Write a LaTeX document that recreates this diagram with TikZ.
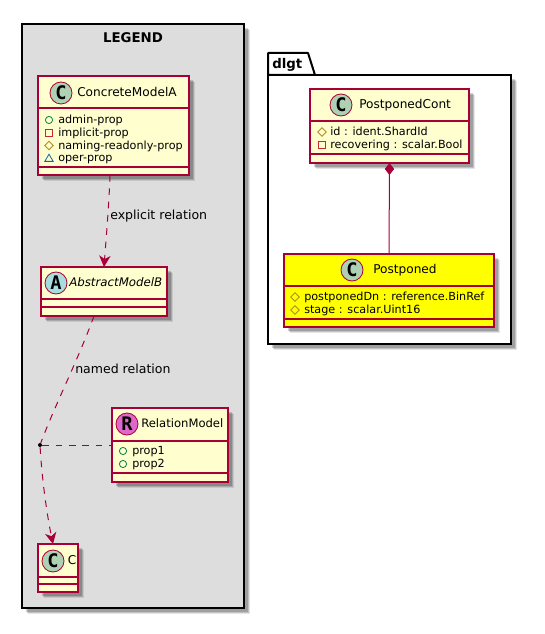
\documentclass[tikz,border=0pt]{standalone}
\usepackage{fontspec}
\setmainfont{DejaVu Sans}
\newfontfamily\spotfont{DejaVu Sans Mono}
\usetikzlibrary{arrows.meta,shadows,calc,shapes.geometric}
\definecolor{umlred}{HTML}{A80036}
\definecolor{umlfill}{HTML}{FEFECE}
\definecolor{legendfill}{HTML}{DDDDDD}
\definecolor{postfill}{HTML}{FFFF00}
\definecolor{spotC}{HTML}{ADD1B2}
\definecolor{spotA}{HTML}{A9DCDF}
\definecolor{spotR}{HTML}{E066CC}
\definecolor{pubc}{HTML}{038048}
\definecolor{privc}{HTML}{C82930}
\definecolor{protc}{HTML}{B38D22}
\definecolor{pkgc}{HTML}{1963A0}
\tikzset{
  softshadow/.style={
    general shadow={shadow xshift=4.6pt,shadow yshift=-4.6pt,fill=black,opacity=.10},
    general shadow={shadow xshift=3.8pt,shadow yshift=-3.8pt,fill=black,opacity=.15},
    general shadow={shadow xshift=3pt,shadow yshift=-3pt,fill=black,opacity=.18}},
  classbox/.style={shape=rectangle,draw=umlred,line width=.85pt,inner sep=0pt,outer sep=0pt,softshadow},
  groupbox/.style={shape=rectangle,draw=black,line width=1.5pt,inner sep=0pt,outer sep=0pt,softshadow},
  divider/.style={draw=umlred,line width=.85pt},
  spot/.style={shape=circle,draw=umlred,line width=.6pt,minimum size=16.5pt,inner sep=0pt,
    font=\spotfont\bfseries\fontsize{14}{14}\selectfont,text=black},
  title/.style={anchor=mid west,inner sep=0pt,font=\fontsize{9.1}{11}\selectfont},
  field/.style={anchor=mid west,inner sep=0pt,font=\fontsize{8.4}{10}\selectfont},
  edgelabel/.style={anchor=mid west,inner sep=0pt,font=\fontsize{9.4}{11}\selectfont},
  grouptitle/.style={inner sep=0pt,font=\bfseries\fontsize{10}{12}\selectfont},
  link/.style={draw=umlred,line width=.75pt},
  dep/.style={link,dash pattern=on 5pt off 5pt},
  open/.style={-{Stealth[length=8.5pt,width=8.5pt,inset=2.5pt,umlred]}},
  pubi/.style={draw=pubc,line width=.6pt},
  privi/.style={draw=privc,line width=.6pt},
  proti/.style={draw=protc,line width=.6pt},
  pkgi/.style={draw=pkgc,line width=.6pt},
}
% name, x1, y1, x2, y2, fill, extra
\newcommand\umlrect[7][classbox]{%
  \pgfmathsetlengthmacro\boxw{(#4-#2)*.75pt}%
  \pgfmathsetlengthmacro\boxh{(#5-#3)*.75pt}%
  \node[#1,fill=#7,minimum width=\boxw,minimum height=\boxh] (#6) at ({(#2+#4)/2},{(#3+#5)/2}) {};}
\newcommand\umldiv[2]{\draw[divider] (#1.west |- 0,#2) -- (#1.east |- 0,#2);}
\newcommand\iconpub[2]{\draw[pubi] (#1,#2) circle (2.7pt);}
\newcommand\iconpriv[2]{\draw[privi] ($(#1,#2)+(-3.2,-3.2)$) rectangle ($(#1,#2)+(3.2,3.2)$);}
\newcommand\iconprot[2]{\draw[proti] ($(#1,#2)+(-4.2,0)$) -- ($(#1,#2)+(0,-4.2)$) -- ($(#1,#2)+(4.2,0)$) -- ($(#1,#2)+(0,4.2)$) -- cycle;}
\newcommand\iconpkg[2]{\draw[pkgi] ($(#1,#2)+(-4.2,3.4)$) -- ($(#1,#2)+(0,-3.8)$) -- ($(#1,#2)+(4.2,3.4)$) -- cycle;}
\begin{document}
\begin{tikzpicture}[x=.75pt,y=-.75pt]
\useasboundingbox (0,0) rectangle (544,634);
\fill[white] (0,0) rectangle (544,634);

% LEGEND
\umlrect[groupbox]{22}{24}{244}{608}{legend}{legendfill}
\node[grouptitle] (legendtitle) at (133,38) {LEGEND};

% dlgt package
\node[groupbox,fill=white,minimum width=182.25pt,minimum height=201.75pt] (dlgt) at (389.5,209.5) {};
\draw[black,line width=1.5pt,fill=white,line join=round] (dlgt.north west) -- (268,53) -- (308,53) -- (315,75) -- cycle;
\node[grouptitle,anchor=mid west] (dlgttitle) at (272,65) {dlgt};

% ConcreteModelA
\umlrect{38}{76}{189}{175}{cma}{umlfill}
\umldiv{cma}{108}\umldiv{cma}{167}
\node[spot,fill=spotC] (cmaspot) at (61,93) {C};
\node[title] (cmaname) at (77,93) {ConcreteModelA};
\iconpub{49}{120}\iconpriv{49}{133}\iconprot{49}{145.5}\iconpkg{49}{158}
\node[field] (cmaf1) at (58,120) {admin-prop};
\node[field] (cmaf2) at (58,133) {implicit-prop};
\node[field] (cmaf3) at (58,145.5) {naming-readonly-prop};
\node[field] (cmaf4) at (58,158) {oper-prop};

% AbstractModelB
\umlrect{41}{267}{167}{316}{amb}{umlfill}
\umldiv{amb}{299}\umldiv{amb}{307}
\node[spot,fill=spotA] (ambspot) at (56,283) {A};
\node[title,font=\itshape\fontsize{8.85}{11}\selectfont] (ambname) at (69,283) {AbstractModelB};

% RelationModel
\umlrect{112}{408}{228}{482}{rel}{umlfill}
\umldiv{rel}{441}\umldiv{rel}{473}
\node[spot,fill=spotR] (relspot) at (127,424) {R};
\node[title,font=\fontsize{8.7}{11}\selectfont] (relname) at (141,424) {RelationModel};
\iconpub{123}{451}\iconpub{123}{464}
\node[field] (relf1) at (132,451) {prop1};
\node[field] (relf2) at (132,464) {prop2};

% C
\umlrect{38}{544}{78}{592}{cc}{umlfill}
\umldiv{cc}{577}\umldiv{cc}{584}
\node[spot,fill=spotC] (ccspot) at (53,561) {C};
\node[title] (ccname) at (67.5,561) {C};

% PostponedCont
\umlrect{310}{89}{469}{163}{cont}{umlfill}
\umldiv{cont}{121}\umldiv{cont}{154}
\node[spot,fill=spotC] (contspot) at (341,105) {C};
\node[title] (contname) at (359,105) {PostponedCont};
\iconprot{322}{132}\iconpriv{322}{145}
\node[field] (contf1) at (330,132) {id : ident.ShardId};
\node[field] (contf2) at (330,145) {recovering : scalar.Bool};

% Postponed
\umlrect{284}{254}{494}{327}{post}{postfill}
\umldiv{post}{286}\umldiv{post}{319}
\node[spot,fill=spotC] (postspot) at (352,270) {C};
\node[title] (postname) at (373,270) {Postponed};
\iconprot{295}{297}\iconprot{295}{310}
\node[field] (postf1) at (304,297) {postponedDn : reference.BinRef};
\node[field] (postf2) at (304,310) {stage : scalar.Uint16};

% dot
\node[shape=circle,fill=black,inner sep=0pt,minimum size=3pt] (dot) at (40,445) {};

% connectors
\draw[dep,open] ($(cma.south)+(-3.5,0)$) .. controls (109,205) and (106,240) .. (amb.north);
\draw[dep] ($(amb.south)+(-10,0)$) .. controls (78,360) and (55,405) .. (dot);
\draw[dep,open] (dot) .. controls (42,480) and (47,515) .. ($(cc.north)+(-5,0)$);
\draw[dep] (dot) -- (rel.west |- dot);
\draw[link,{Diamond[length=9pt,width=7pt,umlred,fill=umlred]}-] (cont.south) -- (post.north);

\node[edgelabel] (lab1) at (110,216) {explicit relation};
\node[edgelabel] (lab2) at (75,370) {named relation};
\end{tikzpicture}
\end{document}
